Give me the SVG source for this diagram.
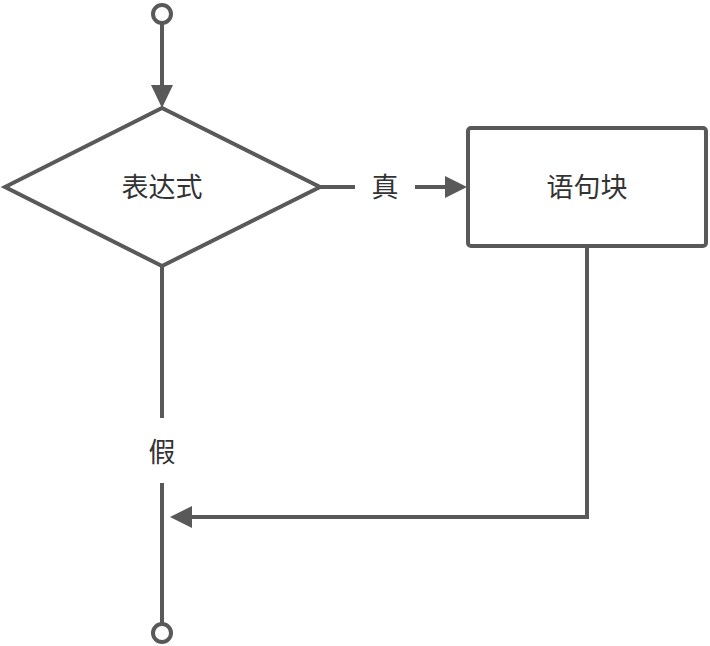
<svg xmlns="http://www.w3.org/2000/svg" width="710" height="646" viewBox="0 0 710 646">
<defs>
<style>
.ln{fill:none;stroke:#595959;stroke-width:4;}
.sh{fill:#fff;stroke:#595959;stroke-width:4;}
.ah{fill:#595959;stroke:none;}
.tx{font-family:"Noto Sans CJK SC","Noto Sans",sans-serif;font-size:27px;fill:#333;text-anchor:middle;}
</style>
</defs>
<rect width="710" height="646" fill="#fff"/>
<g id="connectors">
<line class="ln" x1="162" y1="23" x2="162" y2="88"/>
<polygon class="ah" points="151,85 173,85 162,108"/>
<line class="ln" x1="320" y1="187" x2="355" y2="187"/>
<line class="ln" x1="415" y1="187" x2="448" y2="187"/>
<polygon class="ah" points="445,176 445,198 467,187"/>
<line class="ln" x1="162" y1="266" x2="162" y2="418"/>
<line class="ln" x1="162" y1="483" x2="162" y2="624"/>
<polyline class="ln" points="587,247 587,517 188,517"/>
<polygon class="ah" points="192,506 192,528 170,517"/>
<text class="tx" x="385" y="197">真</text>
<text class="tx" x="162" y="462">假</text>
</g>
<g id="start">
<circle class="sh" cx="162" cy="14" r="9"/>
</g>
<g id="end">
<circle class="sh" cx="162" cy="633" r="9"/>
</g>
<g id="cond">
<polygon class="sh" points="5,187 162,108 320,187 162,266"/>
<text class="tx" x="162" y="197">表达式</text>
</g>
<g id="block">
<rect class="sh" x="468" y="128" width="238" height="118" rx="3"/>
<text class="tx" x="587" y="197">语句块</text>
</g>
</svg>
